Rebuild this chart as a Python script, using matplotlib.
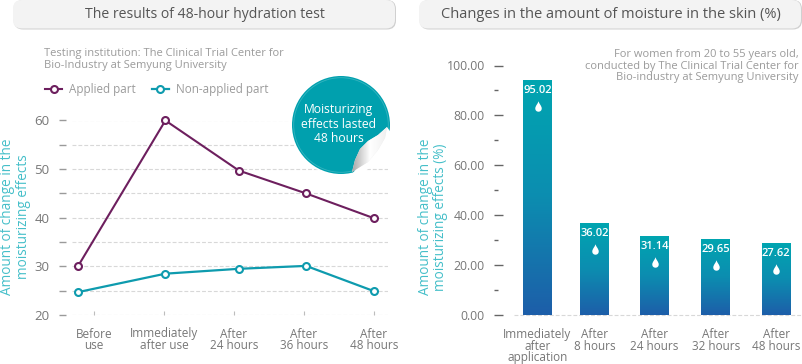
import numpy as np
import matplotlib
matplotlib.use('Agg')
import matplotlib.pyplot as plt
from matplotlib.colors import LinearSegmentedColormap
from matplotlib.patches import Circle, FancyBboxPatch, Polygon
from matplotlib.path import Path

W, H = 803, 364

line_labels = ['Before\nuse', 'Immediately\nafter use', 'After\n24 hours', 'After\n36 hours', 'After\n48 hours']
line_x = [-0.23, 1.02, 2.07, 3.03, 4.0]
applied = [30.0, 60.0, 49.7, 45.0, 39.9]
non_applied = [24.7, 28.5, 29.5, 30.1, 24.9]

bar_labels = ['Immediately\nafter\napplication', 'After\n8 hours', 'After\n24 hours', 'After\n32 hours', 'After\n48 hours']
bar_x = [0, 0.95, 1.95, 2.97, 3.98]
bar_heights = [94.0, 36.8, 31.6, 30.4, 28.8]
bar_values = ['95.02', '36.02', '31.14', '29.65', '27.62']

plt.rcParams['font.family'] = ['Open Sans', 'DejaVu Sans']

PURPLE = '#6d1f5e'
TEAL = '#0e9bae'
YLAB = '#45bfc9'
TICKTXT = '#777777'
NOTE = '#9b9b9b'
GRID = '#d8d8d8'


def px_axes(fig, left, top, right, bottom):
    return fig.add_axes([left/W, 1-bottom/H, (right-left)/W, (bottom-top)/H])


fig = plt.figure(figsize=(W/100, H/100), dpi=100)

# left chart
ax = px_axes(fig, 59, 120.5, 388, 315)
ax.set_xlim(-0.5, 4.2)
ax.set_ylim(20, 60)
ax.hlines(np.arange(20, 61, 5), -0.31, 4.2, color=GRID, lw=0.8, linestyles=(0, (3.5, 1.8)), zorder=1)
ax.plot(line_x, non_applied, '-o', color=TEAL, lw=1.6, ms=5, mew=1.5, mfc='white', clip_on=False, zorder=3, label='Non-applied part')
ax.plot(line_x, applied, '-o', color=PURPLE, lw=1.5, ms=5, mew=1.5, mfc='white', clip_on=False, zorder=3, label='Applied part')
ax.set_yticks(np.arange(20, 61, 5))
ax.set_yticklabels([str(v) if v % 10 == 0 else '' for v in range(20, 61, 5)])
ax.set_xticks(range(5))
ax.set_xticklabels(line_labels, linespacing=0.88)
ax.tick_params(axis='y', direction='in', length=5, width=1, color='#9a9a9a', pad=7, labelsize=9.5, labelcolor=TICKTXT)
ax.tick_params(axis='x', direction='in', length=3, width=0.8, color='#bdbdbd', pad=9, labelsize=8.5, labelcolor=TICKTXT)
for s in ax.spines.values():
    s.set_visible(False)
ax.patch.set_alpha(0)
handles, labels = ax.get_legend_handles_labels()
ax.legend(handles[::-1], labels[::-1], ncol=2, frameon=False, loc='lower left',
          bbox_to_anchor=(-0.042, 1.128), fontsize=8.4, labelcolor=NOTE,
          handlelength=1.46, handletextpad=0.6, columnspacing=1.37, borderpad=0, borderaxespad=0)

# right chart
ax2 = px_axes(fig, 494, 65.5, 803, 315.3)
bars = ax2.bar(bar_x, bar_heights, width=0.483, color='#0e85ad', zorder=2)
cmap = LinearSegmentedColormap.from_list('bar', ['#1d5ea9', '#0c8db0', '#00a5b0'])
grad = np.linspace(1, 0, 128).reshape(-1, 1)
for b in bars:
    im = ax2.imshow(grad, cmap=cmap, aspect='auto', zorder=3,
                    extent=(b.get_x(), b.get_x()+b.get_width(), 0, b.get_height()))
    im.set_clip_path(b)
ax2.set_xlim(-0.725, 4.425)
ax2.set_ylim(0, 100)
ax2.hlines(0, -0.4, 4.425, color=GRID, lw=0.8, linestyles=(0, (3.5, 1.8)), zorder=1, clip_on=False)
drop = Path([(0, 1), (0.12, 0.55), (0.62, 0.1), (0.62, -0.38), (0.62, -0.8), (0.3, -1), (0, -1),
             (-0.3, -1), (-0.62, -0.8), (-0.62, -0.38), (-0.62, 0.1), (-0.12, 0.55), (0, 1)],
            [Path.MOVETO] + [Path.CURVE4]*12)
for x, h, v in zip(bar_x, bar_heights, bar_values):
    ax2.annotate(v, (x, h), xytext=(0, -7.2), textcoords='offset points', ha='center', va='center',
                 color='white', fontsize=8, fontweight='semibold', zorder=5)
    ax2.plot([x], [h-10.4], marker=drop, ms=7.5, color='white', mew=0, zorder=5)
ax2.set_yticks(np.arange(0, 101, 20))
ax2.set_yticklabels(['%.2f' % v for v in np.arange(0, 101, 20)])
ax2.set_yticks(np.arange(10, 100, 20), minor=True)
ax2.set_xticks(bar_x)
ax2.set_xticklabels(bar_labels, linespacing=0.88)
ax2.tick_params(axis='y', which='major', direction='in', length=6.5, width=1, color='#666666', pad=6.5, labelsize=8.8, labelcolor=TICKTXT)
ax2.tick_params(axis='y', which='minor', direction='in', length=3, width=1, color='#666666')
ax2.tick_params(axis='x', length=0, pad=9, labelsize=8.5, labelcolor=TICKTXT)
for s in ax2.spines.values():
    s.set_visible(False)
ax2.patch.set_alpha(0)

# decoration and free text, in pixel units
top = fig.add_axes([0, 0, 1, 1], zorder=5)
top.set_xlim(0, W)
top.set_ylim(H, 0)
top.axis('off')

box_grad = LinearSegmentedColormap.from_list('box', ['#efefef', '#f9f9f9'])
for x0, x1, cx, title, fs in [(13, 395, 205, 'The results of 48-hour hydration test', 10.1),
                              (419, 801, 611, 'Changes in the amount of moisture in the skin (%)', 10.5)]:
    top.add_patch(FancyBboxPatch((x0+1, 0), x1-x0, 29.5, boxstyle='round,pad=0,rounding_size=9',
                                 fc='#d0d0d0', ec='none'))
    p = FancyBboxPatch((x0, 0), x1-x0, 28.5, boxstyle='round,pad=0,rounding_size=9', fc='#f3f3f3', ec='none')
    top.add_patch(p)
    im = top.imshow(np.linspace(1, 0, 32).reshape(-1, 1), cmap=box_grad, aspect='auto', extent=(x0, x1, 28.5, 0))
    im.set_clip_path(p)
    top.text(cx, 14.5, title, ha='center', va='center', fontsize=fs, color='#555555')
top.set_xlim(0, W)
top.set_ylim(H, 0)

top.text(44.5, 59.5, 'Testing institution: The Clinical Trial Center for\nBio-Industry at Semyung University',
         ha='left', va='center', fontsize=8, color=NOTE, linespacing=1.12)
top.text(799, 66, 'For women from 20 to 55 years old,\nconducted by The Clinical Trial Center for\nBio-industry at Semyung University',
         ha='right', va='center', fontsize=8, color=NOTE, linespacing=1.12)
top.text(15.5, 217, 'Amount of change in the\nmoisturizing effects', rotation=90, ha='center', va='center',
         fontsize=9.8, color=YLAB, linespacing=1.05)
top.text(433, 217, 'Amount of change in the\nmoisturizing effects (%)', rotation=90, ha='center', va='center',
         fontsize=9.8, color=YLAB, linespacing=1.05)

# sticker
top.add_patch(Circle((341, 125), 51, fc='white', ec='none', alpha=0.7))
top.add_patch(Circle((341, 125), 49, fc='#00a0ae', ec='none'))
top.add_patch(Circle((341, 125), 47.3, fc='none', ec='#35b4bf', lw=0.6))
top.text(339, 124, 'Moisturizing\neffects lasted\n48 hours', ha='center', va='center', fontsize=8.7,
         color='white', linespacing=1.15)
top.add_patch(Polygon([(387, 127), (392, 134), (388, 150), (378, 163), (365, 171), (352, 174), (372, 150)],
                      closed=True, fc='white', ec='none'))
curl = Polygon([(352, 172), (355, 160), (360, 149), (368, 141), (378, 135), (387, 127),
                (385, 138), (378, 150), (368, 162)], closed=True, fc='#eeeeee', ec='none')
top.add_patch(curl)
curl_cmap = LinearSegmentedColormap.from_list('curl', ['#a8a8a8', '#ffffff', '#efefef'])
im = top.imshow(np.linspace(0, 1, 64).reshape(1, -1), cmap=curl_cmap, aspect='auto', extent=(352, 388, 173, 127), zorder=3)
im.set_clip_path(curl)
top.set_xlim(0, W)
top.set_ylim(H, 0)

fig.savefig('out.png', dpi=100)
